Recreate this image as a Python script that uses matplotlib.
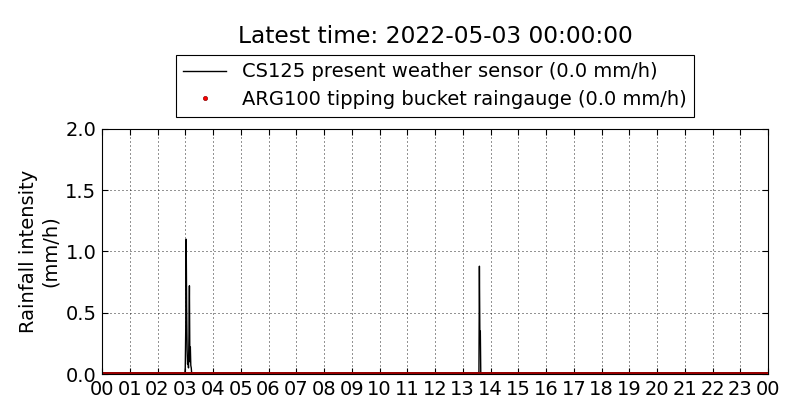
import numpy as np
import matplotlib
matplotlib.use('Agg')
import matplotlib.pyplot as plt

# one reading per minute through the day (hours)
minutes = np.arange(0, 24 * 60 + 1)
hours = minutes / 60.0

# CS125 is zero except for a few short bursts (minute -> mm/h)
cs125_minutes = [180, 181, 182, 183, 184, 185, 186, 187, 188, 189, 190, 191, 192, 193,
                 815, 816, 817, 818, 819]
cs125_values = [0.05, 0.35, 1.10, 0.55, 0.20, 0.08, 0.12, 0.05, 0.30, 0.72, 0.10, 0.22, 0.07, 0.05,
                0.02, 0.88, 0.32, 0.35, 0.0]

cs125 = np.zeros(len(minutes))
cs125[cs125_minutes] = cs125_values

# ARG100 bucket recorded nothing
arg100 = np.zeros(len(minutes))

hour_ticks = list(range(0, 25))
hour_labels = ['%02d' % (h % 24) for h in hour_ticks]

plt.rcParams['font.family'] = 'DejaVu Sans'
plt.rcParams['xtick.direction'] = 'in'
plt.rcParams['ytick.direction'] = 'in'

fig = plt.figure(figsize=(8, 4.2), dpi=100)
ax = fig.add_axes([0.1275, 0.1095, 0.8325, 0.5834])

ax.plot(hours, cs125, color='black', lw=1, label='CS125 present weather sensor (0.0 mm/h)')
ax.plot(hours, arg100, ls='none', marker='o', ms=3, mfc='red', mec='darkred', mew=0.5,
        label='ARG100 tipping bucket raingauge (0.0 mm/h)')

ax.set_xlim(0, 24)
ax.set_ylim(0, 2.0)
ax.set_xticks(hour_ticks)
ax.set_xticklabels(hour_labels)
ax.set_yticks([0.0, 0.5, 1.0, 1.5, 2.0])
ax.set_yticklabels(['0.0', '0.5', '1.0', '1.5', '2.0'])
ax.tick_params(labelsize=14, top=True, right=True, length=4, width=0.8, pad=4)
ax.grid(True, color='black', ls=(0, (1.2, 3.6)), lw=0.6)
ax.set_ylabel('Rainfall intensity\n(mm/h)', fontsize=14)

leg = ax.legend(loc='lower center', bbox_to_anchor=(0.5, 1.049), fontsize=14, numpoints=1,
                fancybox=False, framealpha=1, edgecolor='black', borderaxespad=0,
                handlelength=2.2, labelspacing=0.45)
leg.get_frame().set_linewidth(0.8)

# title sits centred over the axes, not the figure
fig.text(0.1275 + 0.8325 / 2, 0.94, 'Latest time: 2022-05-03 00:00:00', fontsize=16.8,
         ha='center', va='top')

fig.savefig('out.png', dpi=100)
